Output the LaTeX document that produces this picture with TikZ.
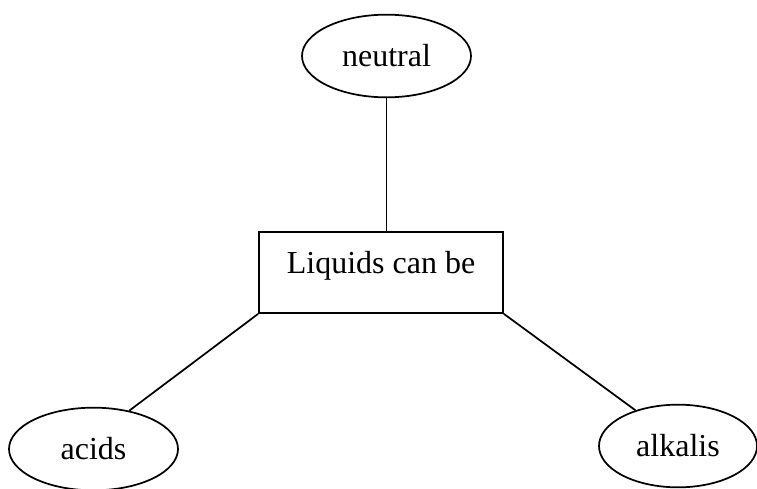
\documentclass[tikz,border=0pt]{standalone}
\usepackage{fontspec}
\setmainfont{Liberation Serif}
\usepackage{tikz}
\usetikzlibrary{shapes.geometric}

\begin{document}
\begin{tikzpicture}[x = 0.75pt, y = -0.75pt, line width = 1.3pt,
                        font = \fontsize{24}{29}\selectfont,
                        oval/.style = {ellipse, draw, inner sep = 0pt, minimum width = 126.75pt, minimum height = 62pt},
                        box/.style = {rectangle, draw, inner sep = 0pt, minimum width = 183pt, text height = 30.75pt, text depth = 30pt}]
      \useasboundingbox (0, 0) rectangle (757, 489);
      \node [oval] (neutral) at (386.5, 56){neutral};
      \node [box] (liquids) at (381, 272.5){Liquids can be};
      \node [oval] (acids) at (93.5, 449){acids};
      \node [oval, minimum width = 118.5pt] (alkalis) at (678, 446){alkalis};
      \draw (neutral.south) -- (neutral.south |- liquids.north);
      \draw (liquids.south west) -- (acids.47);
      \draw (liquids.south east) -- (alkalis.140);
    \end{tikzpicture}
\end{document}
